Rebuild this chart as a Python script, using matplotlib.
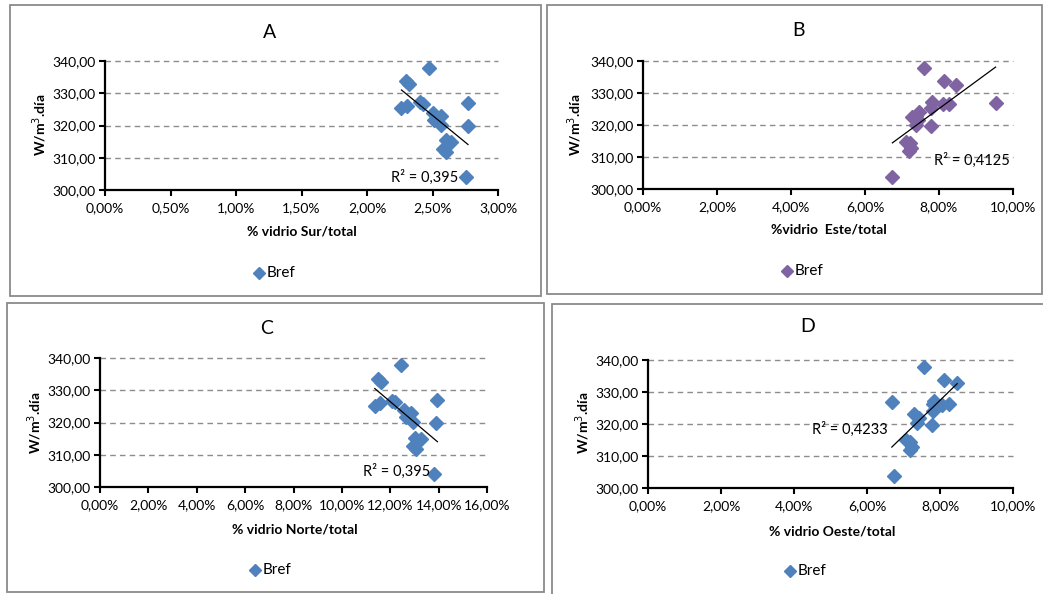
import numpy as np
import matplotlib
matplotlib.use("Agg")
import matplotlib.pyplot as plt
from matplotlib.lines import Line2D
from matplotlib.patches import Rectangle
from matplotlib.ticker import FuncFormatter, MultipleLocator

plt.rcParams['font.family'] = ['Lato', 'DejaVu Sans']

# ---------------- data (x in %, y in W/m3.dia) ----------------
sur_x = [2.474, 2.296, 2.321, 2.263, 2.306, 2.408, 2.428, 2.504, 2.512, 2.568,
         2.568, 2.771, 2.771, 2.606, 2.644, 2.581, 2.606, 2.754]
sur_y = [337.9, 333.8, 332.8, 325.3, 326.0, 327.2, 326.6, 324.0, 321.7, 322.9,
         320.2, 326.9, 319.8, 315.5, 314.8, 312.6, 311.7, 303.9]

este_x = [7.595, 8.135, 8.45, 9.53, 7.82, 7.79, 8.11, 8.27, 7.46, 7.39,
          7.28, 7.43, 7.39, 7.79, 7.12, 7.21, 7.23, 7.18, 6.74]
este_y = [337.9, 333.75, 332.5, 327.0, 327.3, 325.2, 326.6, 326.6, 324.2, 322.8,
          322.6, 321.6, 320.0, 319.7, 314.8, 314.3, 312.9, 311.9, 303.9]

norte_x = [12.44, 11.50, 11.61, 11.36, 11.57, 12.09, 12.19, 12.58, 12.85, 12.67,
           12.92, 13.95, 13.91, 13.02, 13.26, 12.95, 13.06, 13.82]
norte_y = [337.7, 333.5, 332.5, 325.1, 326.0, 326.7, 326.4, 323.9, 322.9, 321.6,
           320.1, 327.0, 319.8, 315.1, 314.8, 312.7, 311.7, 304.0]

oeste_x = [7.575, 8.12, 8.47, 6.68, 7.83, 7.80, 8.06, 8.26, 7.80, 7.28,
           7.42, 7.37, 7.79, 7.07, 7.19, 7.24, 7.18, 6.73]
oeste_y = [337.9, 333.7, 332.7, 326.9, 327.2, 326.1, 325.9, 326.4, 324.0, 323.0,
           321.9, 320.2, 319.6, 314.9, 314.4, 312.8, 311.8, 303.7]

titles = ["A", "B", "C", "D"]
xlabels = ["% vidrio Sur/total", "%vidrio  Este/total",
           "% vidrio Norte/total", "% vidrio Oeste/total"]
r2_labels = ["R² = 0,395", "R² = 0,4125", "R² = 0,395", "R² = 0,4233"]
series_name = "Bref"
y_label = "W/m$^{3}$.día"

BLUE = "#4F81BD"
PURPLE = "#8064A2"

W, H = 1043, 594
fig = plt.figure(figsize=(W / 100, H / 100), dpi=100)


def fx(px):
    return px / W


def fy(py):
    return 1 - py / H


panels = [
    dict(x=sur_x, y=sur_y, color=BLUE, xmax=3.0, xstep=0.5,
         ax=(105, 498, 61, 190), box=(10, 5, 541, 296),
         title=(270, 32), xl=(302, 232), yl=(40, 125), leg=(259, 273),
         r2=(2.44, 304.0)),
    dict(x=este_x, y=este_y, color=PURPLE, xmax=10.0, xstep=2.0,
         ax=(643, 1013, 61, 189), box=(547, 5, 1042, 294),
         title=(799, 30), xl=(829, 230), yl=(575, 125), leg=(787, 271),
         r2=(8.90, 309.1)),
    dict(x=norte_x, y=norte_y, color=BLUE, xmax=16.0, xstep=2.0,
         ax=(100, 487, 358, 487), box=(7, 303, 544, 592),
         title=(267, 328), xl=(295, 529), yl=(35, 423), leg=(255, 570),
         r2=(12.28, 305.0)),
    dict(x=oeste_x, y=oeste_y, color=BLUE, xmax=10.0, xstep=2.0,
         ax=(648, 1013, 360, 488), box=(552, 304, 1046, 598),
         title=(808, 327), xl=(832, 531), yl=(583, 423), leg=(790, 571),
         r2=(5.52, 318.4)),
]

pct_fmt = FuncFormatter(lambda v, p: f"{v:.2f}%".replace(".", ","))
num_fmt = FuncFormatter(lambda v, p: f"{v:.2f}".replace(".", ","))

for i, p in enumerate(panels):
    # panel border
    bx0, by0, bx1, by1 = p["box"]
    fig.add_artist(Rectangle((fx(bx0), fy(by1)), fx(bx1 - bx0), (by1 - by0) / H,
                             transform=fig.transFigure, fill=False,
                             edgecolor="#8a8a8a", lw=1.3))
    l, r, t, b = p["ax"]
    ax = fig.add_axes([fx(l), fy(b), fx(r - l), (b - t) / H])
    ax.set_xlim(0, p["xmax"])
    ax.set_ylim(300, 340)
    ax.xaxis.set_major_locator(MultipleLocator(p["xstep"]))
    ax.yaxis.set_major_locator(MultipleLocator(10))
    ax.xaxis.set_major_formatter(pct_fmt)
    ax.yaxis.set_major_formatter(num_fmt)
    for s in ["top", "right"]:
        ax.spines[s].set_visible(False)
    for s in ["left", "bottom"]:
        ax.spines[s].set_linewidth(1.6)
    ax.tick_params(axis="both", direction="out", length=4, width=1.5,
                   labelsize=10, colors="black")
    ax.tick_params(axis="x", pad=5)
    ax.tick_params(axis="y", pad=3)
    for g in [310, 320, 330, 340]:
        ax.axhline(g, color="#8c8c8c", lw=1.0, ls=(0, (4, 3)), clip_on=False,
                   zorder=1)
    ax.patch.set_alpha(0)

    xs = np.array(p["x"])
    ys = np.array(p["y"])
    ax.plot(xs, ys, ls="none", marker="D", ms=7.5, color=p["color"],
            mec=p["color"], clip_on=False, zorder=3)
    # linear trend line (Excel style) over data range
    k, c0 = np.polyfit(xs, ys, 1)
    xt = np.array([xs.min(), xs.max()])
    ax.plot(xt, k * xt + c0, color="black", lw=0.9, zorder=4)

    ax.text(p["r2"][0], p["r2"][1], r2_labels[i], ha="center", va="center",
            fontsize=10.5, zorder=5)

    fig.text(fx(p["title"][0]), fy(p["title"][1]), titles[i], ha="center",
             va="center", fontsize=14)
    fig.text(fx(p["xl"][0]), fy(p["xl"][1]), xlabels[i], ha="center",
             va="center", fontsize=10, fontweight="bold")
    fig.text(fx(p["yl"][0]), fy(p["yl"][1]), y_label, ha="center",
             va="center", fontsize=10, fontweight="bold", rotation=90)
    # legend
    lx, ly = p["leg"]
    fig.add_artist(Line2D([fx(lx)], [fy(ly)], transform=fig.transFigure,
                          marker="D", ms=6.5, color=p["color"], ls="none"))
    fig.text(fx(lx + 8), fy(ly), series_name, ha="left", va="center",
             fontsize=11)

fig.savefig("out.png", dpi=100)
